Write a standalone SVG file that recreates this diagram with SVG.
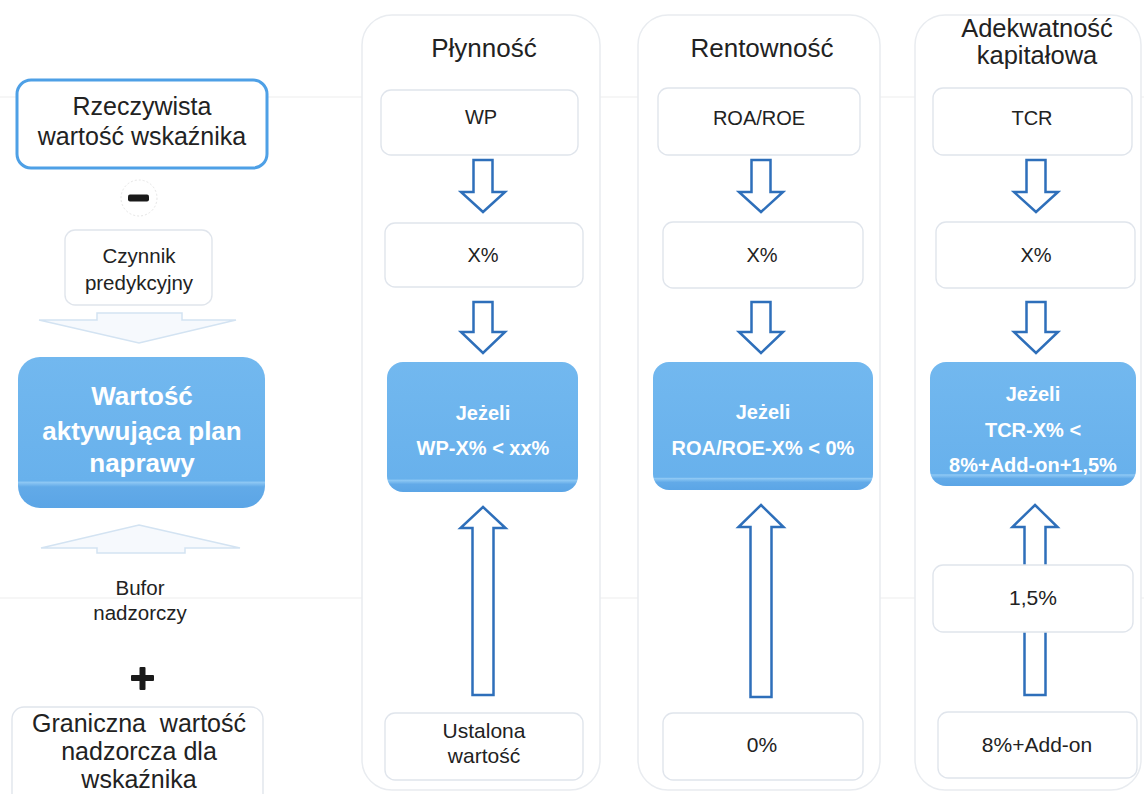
<svg xmlns="http://www.w3.org/2000/svg" width="1144" height="794" viewBox="0 0 1144 794">
<style>
.t{font-family:"Liberation Sans",Arial,sans-serif;fill:#222;text-anchor:middle}
.tb{font-family:"Liberation Sans",Arial,sans-serif;fill:#fff;font-weight:bold;text-anchor:middle}
.panel{fill:#fff;stroke:#e9ecf0;stroke-width:1.5}
.faint{fill:#fff;stroke:#e0e5ec;stroke-width:1.4}
.arr{fill:#fff;stroke:#2e6fba;stroke-width:2.5;stroke-linejoin:miter}
.chev{fill:#f6f9fd;stroke:#d3e3f2;stroke-width:1.5}
.grid{stroke:#ededed;stroke-width:1}
</style>
<defs>
<linearGradient id="gc" x1="0" y1="0" x2="0" y2="1">
<stop offset="0" stop-color="#72b8ef"/>
<stop offset="0.9" stop-color="#68b1ec"/>
<stop offset="0.91" stop-color="#8ec8f4"/>
<stop offset="0.94" stop-color="#62aae8"/>
<stop offset="1" stop-color="#5ba5e6"/>
</linearGradient>
<linearGradient id="gl" x1="0" y1="0" x2="0" y2="1">
<stop offset="0" stop-color="#72b8ef"/>
<stop offset="0.82" stop-color="#68b1ec"/>
<stop offset="0.83" stop-color="#8ec8f4"/>
<stop offset="0.86" stop-color="#62aae8"/>
<stop offset="1" stop-color="#5ba5e6"/>
</linearGradient>
</defs>
<rect width="1144" height="794" fill="#fff"/>
<g id="grid">
<line class="grid" x1="0" y1="97" x2="1144" y2="97"/>
<line class="grid" x1="0" y1="598" x2="1144" y2="598"/>
</g>
<g id="panel-plynnosc"><rect class="panel" x="362" y="15" width="238" height="775" rx="30"/></g>
<g id="panel-rentownosc"><rect class="panel" x="638" y="15" width="242" height="775" rx="30"/></g>
<g id="panel-adekwatnosc"><rect class="panel" x="915" y="15" width="226" height="775" rx="30"/></g>

<g id="connectors">
<path class="chev" d="M97,313 H182 V320 H236 L139,343 L39,320 H97 Z"/>
<path class="chev" d="M139,525 L240,548 H185 V553 H97 V548 H41 Z"/>
<path class="arr" d="M473.5,160 H492.5 V192 H505 L483,212 L461,192 H473.5 Z"/>
<path class="arr" d="M473.5,302 H492.5 V332 H505 L483,353 L461,332 H473.5 Z"/>
<path class="arr" d="M751.5,160 H770.5 V192 H783 L761,212 L739,192 H751.5 Z"/>
<path class="arr" d="M751.5,302 H770.5 V332 H783 L761,353 L739,332 H751.5 Z"/>
<path class="arr" d="M1026.5,160 H1045.5 V192 H1058 L1036,212 L1014,192 H1026.5 Z"/>
<path class="arr" d="M1026.5,302 H1045.5 V332 H1058 L1036,353 L1014,332 H1026.5 Z"/>
<path class="arr" d="M483,507 L505.5,528 H493.5 V695 H472.5 V528 H460.5 Z"/>
<path class="arr" d="M761,505 L783.5,527 H771.5 V697 H750.5 V527 H738.5 Z"/>
<path class="arr" d="M1035,505 L1057.5,527 H1045.5 V695 H1024.5 V527 H1012.5 Z"/>
</g>

<g id="rzeczywista">
<rect x="17" y="80" width="250" height="88" rx="14" fill="#fff" stroke="#4ea0e6" stroke-width="3"/>
<text class="t" x="142" y="115" font-size="25">Rzeczywista</text>
<text class="t" x="142" y="145" font-size="25">wartość wskaźnika</text>
</g>
<g id="minus">
<circle cx="139" cy="198" r="18" fill="none" stroke="#e6e6e6" stroke-width="1" stroke-dasharray="2 2"/>
<rect x="128" y="194.5" width="21" height="7" rx="2" fill="#1a1a1a"/>
</g>
<g id="czynnik">
<rect class="faint" x="65" y="230" width="147" height="75" rx="10"/>
<text class="t" x="139" y="263" font-size="20.5">Czynnik</text>
<text class="t" x="139" y="290" font-size="20.5">predykcyjny</text>
</g>
<g id="wartosc-aktywujaca">
<rect x="18" y="357" width="247" height="151" rx="22" fill="url(#gl)"/>
<text class="tb" x="142" y="405" font-size="26">Wartość</text>
<text class="tb" x="142" y="440" font-size="26">aktywująca plan</text>
<text class="tb" x="142" y="472" font-size="26">naprawy</text>
</g>
<g id="bufor">
<text class="t" x="140" y="595" font-size="20.5">Bufor</text>
<text class="t" x="140" y="620" font-size="20.5">nadzorczy</text>
</g>
<g id="plus">
<rect x="131" y="675" width="23" height="6" rx="1" fill="#1a1a1a"/>
<rect x="139.5" y="667" width="6" height="23" rx="1" fill="#1a1a1a"/>
</g>
<g id="graniczna">
<rect class="faint" x="12" y="707" width="251" height="100" rx="12"/>
<text class="t" x="139" y="732" font-size="25" xml:space="preserve">Graniczna  wartość</text>
<text class="t" x="139" y="760" font-size="25">nadzorcza dla</text>
<text class="t" x="139" y="788" font-size="25">wskaźnika</text>
</g>

<g id="title-plynnosc"><text class="t" x="484" y="57" font-size="26">Płynność</text></g>
<g id="wp"><rect class="faint" x="381" y="90" width="197" height="65" rx="10"/><text class="t" x="481" y="124" font-size="20">WP</text></g>
<g id="x1"><rect class="faint" x="385" y="223" width="198" height="64" rx="10"/><text class="t" x="483" y="262" font-size="20">X%</text></g>
<g id="jezeli-wp">
<rect x="387" y="362" width="191" height="130" rx="16" fill="url(#gc)"/>
<text class="tb" x="483" y="420" font-size="20">Jeżeli</text>
<text class="tb" x="483" y="455" font-size="20">WP-X% &lt; xx%</text>
</g>
<g id="ustalona"><rect class="faint" x="385" y="713" width="198" height="67" rx="10"/>
<text class="t" x="484" y="738" font-size="21">Ustalona</text>
<text class="t" x="484" y="763" font-size="21">wartość</text></g>

<g id="title-rentownosc"><text class="t" x="762" y="57" font-size="26">Rentowność</text></g>
<g id="roa"><rect class="faint" x="658" y="88" width="202" height="67" rx="10"/><text class="t" x="759" y="125" font-size="20">ROA/ROE</text></g>
<g id="x2"><rect class="faint" x="663" y="222" width="200" height="66" rx="10"/><text class="t" x="762" y="262" font-size="20">X%</text></g>
<g id="jezeli-roa">
<rect x="653" y="362" width="220" height="128" rx="16" fill="url(#gc)"/>
<text class="tb" x="763" y="419" font-size="20">Jeżeli</text>
<text class="tb" x="763" y="455" font-size="20">ROA/ROE-X% &lt; 0%</text>
</g>
<g id="zero"><rect class="faint" x="663" y="713" width="200" height="67" rx="10"/><text class="t" x="762" y="752" font-size="21">0%</text></g>

<g id="title-adekwatnosc">
<text class="t" x="1037" y="37" font-size="25.5">Adekwatność</text>
<text class="t" x="1037" y="64" font-size="25.5">kapitałowa</text>
</g>
<g id="tcr"><rect class="faint" x="933" y="88" width="199" height="67" rx="10"/><text class="t" x="1032" y="125" font-size="20">TCR</text></g>
<g id="x3"><rect class="faint" x="936" y="222" width="199" height="66" rx="10"/><text class="t" x="1036" y="262" font-size="20">X%</text></g>
<g id="jezeli-tcr">
<rect x="930" y="362" width="206" height="124" rx="16" fill="url(#gc)"/>
<text class="tb" x="1033" y="401" font-size="20">Jeżeli</text>
<text class="tb" x="1033" y="437" font-size="20">TCR-X% &lt;</text>
<text class="tb" x="1033" y="472" font-size="20">8%+Add-on+1,5%</text>
</g>
<g id="bufor-15"><rect class="faint" x="933" y="565" width="200" height="67" rx="10"/><text class="t" x="1033" y="605" font-size="21">1,5%</text></g>
<g id="addon"><rect class="faint" x="938" y="712" width="199" height="66" rx="10"/><text class="t" x="1037" y="752" font-size="21">8%+Add-on</text></g>
</svg>
